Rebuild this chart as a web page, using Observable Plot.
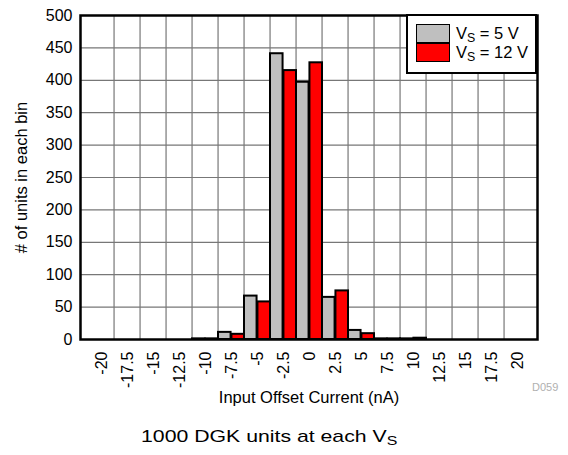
<!DOCTYPE html>
<html>
<head>
<meta charset="utf-8">
<script src="https://cdn.jsdelivr.net/npm/d3@7"></script>
<script src="https://cdn.jsdelivr.net/npm/@observablehq/plot@0.6"></script>
<style>
  body { margin: 0; background: #fff; font-family: "Liberation Sans", Arial, sans-serif; }
  #wrap { position: relative; width: 568px; height: 455px; }
  #legend { position: absolute; left: 406px; top: 14px; width: 127px; height: 56px; border: 2px solid #000; background: #fff; font-size: 16.5px; }
  .row { position: absolute; left: 8px; height: 19px; display: flex; align-items: center; }
  .sw { width: 32px; height: 17px; border: 1px solid #000; margin-right: 6px; }
  .txt { display: inline-block; white-space: nowrap; }
  sub { font-size: 0.75em; vertical-align: -0.25em; line-height: 0; }
  #code { position: absolute; left: 532px; top: 381px; font-size: 11px; color: #b0b0b0; }
  #caption { position: absolute; left: 141px; top: 427px; font-size: 17px; white-space: nowrap; transform: scaleX(1.25); transform-origin: left top; }
</style>
</head>
<body>
<div id="wrap">
  <div id="chart"></div>
  <div id="legend">
    <div class="row" style="top:8px"><div class="sw" style="background:#bfbfbf"></div><span class="txt">V<sub>S</sub> = 5 V</span></div>
    <div class="row" style="top:27px"><div class="sw" style="background:#ff0000"></div><span class="txt">V<sub>S</sub> = 12 V</span></div>
  </div>
  <div id="code">D059</div>
  <div id="caption">1000 DGK units at each V<sub>S</sub></div>
</div>
<script>
const categories = ["-20","-17.5","-15","-12.5","-10","-7.5","-5","-2.5","0","2.5","5","7.5","10","12.5","15","17.5","20"];
const vs5  = [0,0,0,0,1,11,67,441,397,65,14,1,1,0,0,0,0];
const vs12 = [0,0,0,0,1,8,58,415,427,75,9,1,2,0,0,0,0];
const yTicks = [0,50,100,150,200,250,300,350,400,450,500];

const W = 568, H = 455, mL = 80, mR = 31, mT = 15, mB = 116;
const bw = (W - mL - mR) / categories.length;

const d5 = categories.map((c, i) => ({cat: c, v: vs5[i]})).filter(d => d.v > 0);
const d12 = categories.map((c, i) => ({cat: c, v: vs12[i]})).filter(d => d.v > 0);
const boundaries = categories.slice(1);

const chart = Plot.plot({
  width: W, height: H,
  marginLeft: mL, marginRight: mR, marginTop: mT, marginBottom: mB,
  style: {fontFamily: "'Liberation Sans', Arial, sans-serif", fontSize: "15px", color: "#000", background: "#fff"},
  x: {type: "band", domain: categories, padding: 0},
  y: {domain: [0, 500]},
  marks: [
    Plot.gridY(yTicks, {stroke: "#777", strokeOpacity: 1, strokeWidth: 1.2}),
    Plot.ruleX(boundaries, {x: d => d, dx: -bw / 2, stroke: "#777", strokeWidth: 1.2}),
    Plot.barY(d5, {x: "cat", y: "v", fill: "#bfbfbf", stroke: "#000", strokeWidth: 2, insetRight: bw / 2}),
    Plot.barY(d12, {x: "cat", y: "v", fill: "#ff0000", stroke: "#000", strokeWidth: 2, insetLeft: bw / 2}),
    Plot.frame({stroke: "#000", strokeWidth: 2.5}),
    Plot.axisY(yTicks, {tickSize: 0, tickPadding: 8, fontSize: 16, label: null}),
    Plot.axisY({ticks: [], tickSize: 0, fontSize: 16.5, label: "# of units in each bin", labelAnchor: "center", labelArrow: "none", labelOffset: 65}),
    Plot.axisX({tickSize: 0, tickPadding: 12, tickRotate: -90, fontSize: 16, label: null}),
    Plot.axisX({ticks: [], tickSize: 0, fontSize: 16.5, label: "Input Offset Current (nA)", labelAnchor: "center", labelArrow: "none", labelOffset: 63})
  ]
});
document.getElementById("chart").appendChild(chart);
</script>
</body>
</html>
